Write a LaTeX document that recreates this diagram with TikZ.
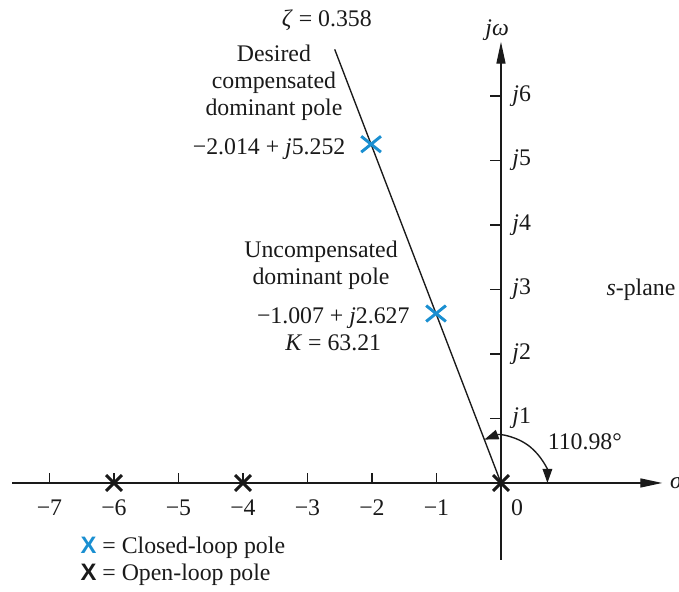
\documentclass[tikz,border=0pt]{standalone}
\usepackage{fontspec}
\setmainfont{Liberation Serif}
\newfontfamily\markfont{Liberation Sans}
\usepackage{tikz}
\usetikzlibrary{arrows.meta,shapes.misc,calc}
\definecolor{ink}{HTML}{1A1A1A}
\definecolor{clblue}{HTML}{1A8FD1}
\tikzset{
  lbl/.style={font=\fontsize{10.5}{11.9}\selectfont,inner sep=1pt,text=ink},
  axisline/.style={ink,line width=0.6pt,-{Triangle[length=3.4mm,width=1.4mm]}},
  tickmark/.style={ink,line width=0.6pt},
  zline/.style={ink,line width=0.6pt},
  olpole/.style={cross out,draw=ink,line width=1.3pt,minimum size=2mm,inner sep=0pt},
  clpole/.style={cross out,draw=clblue,line width=1.3pt,minimum width=2.6mm,
                 minimum height=2mm,inner sep=0pt},
  anglearc/.style={ink,line width=0.6pt,
                   {Triangle[length=2.2mm,width=1.5mm]}-{Triangle[length=2.2mm,width=1.5mm]}},
}

\begin{document}
\begin{tikzpicture}
  \useasboundingbox (-7.767,-1.690) rectangle (2.760,7.488);

  % Axes: origin and free ends
  \coordinate (O) at (0,0);
  \coordinate (xl) at (-7.58,0);
  \coordinate (xr) at (2.50,0);
  \coordinate (yb) at (0,-1.19);
  \coordinate (yt) at (0,6.84);
  \draw[axisline] (xl) -- (xr);
  \draw[axisline] (yb) -- (yt);
  \node[lbl,anchor=west] (sig) at (2.58,0) {\textit{σ}};
  \node[lbl] (jw) at (-0.06,7.02) {\textit{jω}};

  % Real-axis ticks
  \foreach \x in {1,...,7}{
    \draw[tickmark] (-\x,0) -- (-\x,0.155);
    \node[lbl] (rx\x) at (-\x,-0.38) {−\x};
  }
  \node[lbl] (rx0) at (0.25,-0.38) {0};

  % Imaginary-axis ticks
  \foreach \y in {1,...,6}{
    \draw[tickmark] (0,\y) -- (-0.17,\y);
    \node[lbl,anchor=west] (im\y) at (0.135,\y) {\textit{j}\y};
  }

  % Constant damping ratio line
  \coordinate (zt) at (110.98:7.2);
  \draw[zline] (O) -- (zt);
  \node[lbl] (zeta) at (-2.70,7.18) {\textit{ζ} = 0.358};

  % Angle of the zeta line
  \draw[anglearc] ($(O)+(110.98:0.72)$) arc[start angle=110.98,end angle=0,radius=0.72];
  \node[lbl] (ang) at (1.30,0.64) {110.98°};

  % Poles
  \foreach \p in {-6,-4,0}
    \node[olpole] (ol\p) at (\p,0) {};
  \node[clpole] (cd) at (-2.014,5.252) {};
  \node[clpole] (cu) at (-1.007,2.627) {};

  % Pole labels
  \node[lbl,align=center] (dtxt) at (-3.52,6.20) {Desired\\compensated\\dominant pole};
  \node[lbl,anchor=east] (dval) at (-2.37,5.17) {−2.014 + \textit{j}5.252};
  \node[lbl,align=center] (utxt) at (-2.79,3.38) {Uncompensated\\dominant pole};
  \node[lbl,align=center] (uval) at (-2.60,2.39) {−1.007 + \textit{j}2.627\\\textit{K} = 63.21};
  \node[lbl,anchor=east] (splane) at (2.745,2.99) {\textit{s}-plane};

  % Legend
  \node[lbl,anchor=west] (lgcl) at (-6.56,-1.01)
    {{\color{clblue}\markfont\bfseries X} = Closed-loop pole};
  \node[lbl,anchor=west] (lgol) at (-6.56,-1.43)
    {{\markfont\bfseries X} = Open-loop pole};
\end{tikzpicture}
\end{document}
